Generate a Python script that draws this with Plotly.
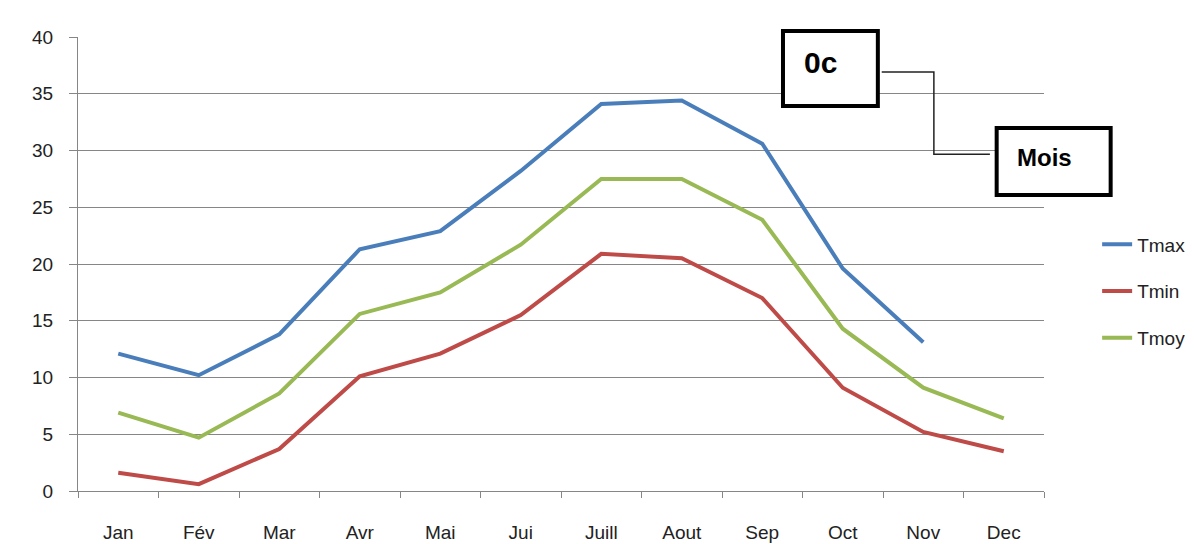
import plotly.graph_objects as go

months = ["Jan", "Fév", "Mar", "Avr", "Mai", "Jui", "Juill", "Aout", "Sep", "Oct", "Nov", "Dec"]
tmax = [12.1, 10.2, 13.8, 21.3, 22.9, 28.2, 34.1, 34.4, 30.6, 19.6, 13.1, None]
tmin = [1.6, 0.6, 3.7, 10.1, 12.1, 15.5, 20.9, 20.5, 17.0, 9.1, 5.2, 3.5]
tmoy = [6.9, 4.7, 8.6, 15.6, 17.5, 21.7, 27.5, 27.5, 23.9, 14.3, 9.1, 6.4]
y_ticks = [0, 5, 10, 15, 20, 25, 30, 35, 40]

series = [("Tmax", tmax, "#4A7EBB"), ("Tmin", tmin, "#BE4B48"), ("Tmoy", tmoy, "#98B954")]

fig = go.Figure()
for name, vals, col in series:
    fig.add_trace(go.Scatter(x=months, y=vals, name=name, mode="lines",
                             line=dict(color=col, width=4), legendgroup=name,
                             connectgaps=False))

font = "Liberation Sans"
fig.update_layout(
    width=1186, height=536,
    margin=dict(l=70, r=150, t=29, b=53, autoexpand=False),
    paper_bgcolor="white", plot_bgcolor="white",
    font=dict(family=font, size=19, color="#222222"),
    showlegend=True,
    legend=dict(x=1.055, y=0.585, xanchor="left", yanchor="top",
                tracegroupgap=19, font=dict(size=19, color="#222222"),
                bgcolor="rgba(0,0,0,0)"),
    xaxis=dict(type="category", tickson="boundaries", ticks="outside", ticklen=6,
               tickcolor="#868686", showline=True, linecolor="#868686", linewidth=1,
               showgrid=False, ticklabelstandoff=24, range=[-0.5, 11.5],
               tickfont=dict(size=19), automargin=False),
    yaxis=dict(range=[0, 40], tickvals=y_ticks, ticks="outside", ticklen=8,
               tickcolor="#868686", showline=True, linecolor="#868686", linewidth=1,
               showgrid=True, gridcolor="#868686", gridwidth=1, zeroline=False,
               ticklabelstandoff=12, tickfont=dict(size=19), automargin=False),
)

# Callout boxes
fig.add_shape(type="rect", xref="paper", yref="paper", x0=0.7298, x1=0.828, y0=0.848, y1=1.013,
              line=dict(color="black", width=4), fillcolor="white", layer="above")
fig.add_shape(type="rect", xref="paper", yref="paper", x0=0.951, x1=1.069, y0=0.652, y1=0.7996,
              line=dict(color="black", width=4), fillcolor="white", layer="above")
# Elbow connector
fig.add_shape(type="path", xref="paper", yref="paper",
              path="M 0.832 0.923 L 0.886 0.923 L 0.886 0.742 L 0.944 0.742",
              line=dict(color="#222222", width=1.5), layer="above")

fig.add_annotation(xref="paper", yref="paper", x=0.749, y=0.944, text="<b>0c</b>",
                   showarrow=False, xanchor="left", yanchor="middle",
                   font=dict(family=font, size=30, color="black"))
fig.add_annotation(xref="paper", yref="paper", x=0.97, y=0.735, text="<b>Mois</b>",
                   showarrow=False, xanchor="left", yanchor="middle",
                   font=dict(family=font, size=24, color="black"))

fig.write_html("out.html")
